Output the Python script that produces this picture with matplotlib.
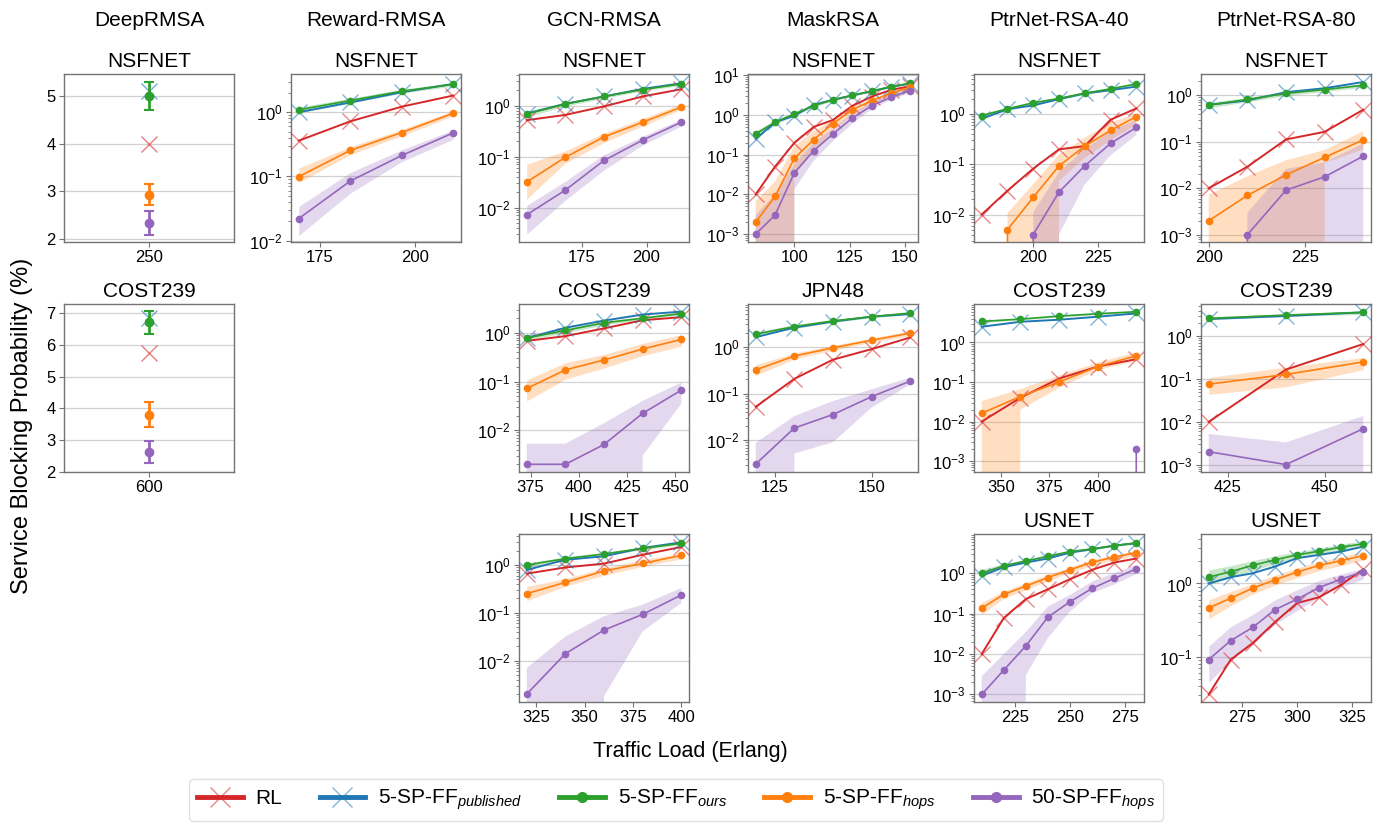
import matplotlib
matplotlib.use('Agg')
import matplotlib.pyplot as plt
from matplotlib.lines import Line2D
from matplotlib.colors import to_rgba
from matplotlib.ticker import MultipleLocator

plt.rcParams['font.family'] = ['Liberation Sans', 'DejaVu Sans']
plt.rcParams['mathtext.fontset'] = 'custom'
plt.rcParams['mathtext.rm'] = 'Liberation Sans'
plt.rcParams['mathtext.it'] = 'Liberation Sans:italic'
plt.rcParams['mathtext.bf'] = 'Liberation Sans:bold'

# ---------------- data (blocking probability, %) ----------------
columns = ['DeepRMSA', 'Reward-RMSA', 'GCN-RMSA', 'MaskRSA', 'PtrNet-RSA-40', 'PtrNet-RSA-80']
labels = ['RL', '5-SP-FF$_{published}$', '5-SP-FF$_{ours}$', '5-SP-FF$_{hops}$', '50-SP-FF$_{hops}$']

# DeepRMSA: single load point with error bars
drl_nsf_x = 250
drl_nsf_rl, drl_nsf_pub = 4.0, 5.1
drl_nsf_ours, drl_nsf_ours_err = 5.0, 0.29
drl_nsf_hops, drl_nsf_hops_err = 2.93, 0.22
drl_nsf_h50, drl_nsf_h50_err = 2.33, 0.25

drl_cost_x = 600
drl_cost_rl, drl_cost_pub = 5.75, 6.85
drl_cost_ours, drl_cost_ours_err = 6.7, 0.36
drl_cost_hops, drl_cost_hops_err = 3.8, 0.39
drl_cost_h50, drl_cost_h50_err = 2.62, 0.35

# Reward-RMSA NSFNET
rw_nsf_x = [169.5, 183, 196.5, 210]
rw_nsf_rl = [0.36, 0.72, 1.22, 1.82]
rw_nsf_pub = [1.0, 1.42, 2.05, 2.76]
rw_nsf_ours = [1.09, 1.52, 2.12, 2.72]
rw_nsf_ours_lo = [0.98, 1.38, 1.98, 2.55]
rw_nsf_ours_hi = [1.2, 1.66, 2.28, 2.9]
rw_nsf_hops = [0.099, 0.254, 0.483, 0.965]
rw_nsf_hops_lo = [0.08, 0.22, 0.43, 0.88]
rw_nsf_hops_hi = [0.135, 0.29, 0.54, 1.05]
rw_nsf_h50 = [0.022, 0.0846, 0.212, 0.477]
rw_nsf_h50_lo = [0.012, 0.055, 0.17, 0.38]
rw_nsf_h50_hi = [0.034, 0.115, 0.26, 0.53]

# GCN-RMSA NSFNET
gcn_nsf_x = [153.5, 168.5, 183.5, 198.5, 213.5]
gcn_nsf_rl = [0.52, 0.66, 0.97, 1.52, 2.11]
gcn_nsf_pub = [0.70, 1.09, 1.52, 2.14, 2.76]
gcn_nsf_ours = [0.69, 1.08, 1.52, 2.08, 2.68]
gcn_nsf_ours_lo = [0.6, 0.98, 1.4, 1.95, 2.5]
gcn_nsf_ours_hi = [0.78, 1.18, 1.64, 2.2, 2.85]
gcn_nsf_hops = [0.0316, 0.097, 0.245, 0.473, 0.94]
gcn_nsf_hops_lo = [0.0147, 0.075, 0.19, 0.40, 0.84]
gcn_nsf_hops_hi = [0.071, 0.13, 0.29, 0.56, 1.09]
gcn_nsf_h50 = [0.0072, 0.022, 0.084, 0.211, 0.473]
gcn_nsf_h50_lo = [0.003, 0.014, 0.055, 0.17, 0.40]
gcn_nsf_h50_hi = [0.011, 0.033, 0.11, 0.25, 0.55]

# GCN-RMSA COST239
gcn_cost_x = [373, 393, 413, 433, 453]
gcn_cost_rl = [0.68, 0.855, 1.23, 1.81, 2.09]
gcn_cost_pub = [0.78, 1.27, 1.78, 2.37, 2.72]
gcn_cost_ours = [0.78, 1.12, 1.6, 1.99, 2.48]
gcn_cost_ours_lo = [0.7, 1.0, 1.45, 1.85, 2.3]
gcn_cost_ours_hi = [0.86, 1.24, 1.75, 2.15, 2.68]
gcn_cost_hops = [0.072, 0.173, 0.277, 0.464, 0.73]
gcn_cost_hops_lo = [0.040, 0.112, 0.19, 0.34, 0.53]
gcn_cost_hops_hi = [0.108, 0.244, 0.36, 0.61, 0.91]
gcn_cost_h50 = [0.002, 0.002, 0.0051, 0.0222, 0.0665]
gcn_cost_h50_lo = [0, 0, 0, 0.003, 0.035]
gcn_cost_h50_hi = [0.0053, 0.0053, 0.014, 0.04, 0.095]

# GCN-RMSA USNET
gcn_us_x = [320, 340, 360, 380, 400]
gcn_us_rl = [0.66, 0.89, 1.07, 1.64, 2.38]
gcn_us_pub = [0.79, 1.29, 1.52, 2.27, 2.98]
gcn_us_ours = [1.0, 1.36, 1.70, 2.23, 2.84]
gcn_us_ours_lo = [0.9, 1.24, 1.56, 2.08, 2.65]
gcn_us_ours_hi = [1.1, 1.48, 1.84, 2.38, 3.03]
gcn_us_hops = [0.252, 0.434, 0.75, 1.08, 1.59]
gcn_us_hops_lo = [0.18, 0.36, 0.61, 0.94, 1.34]
gcn_us_hops_hi = [0.358, 0.52, 0.87, 1.29, 1.78]
gcn_us_h50 = [0.002, 0.014, 0.0437, 0.093, 0.236]
gcn_us_h50_lo = [0, 0, 0.0018, 0.041, 0.16]
gcn_us_h50_hi = [0.007, 0.032, 0.085, 0.148, 0.33]

# MaskRSA NSFNET
mask_nsf_x = [82.5, 91.25, 100, 108.75, 117.5, 126.25, 135, 143.75, 152.5]
mask_nsf_rl = [0.01, 0.05, 0.2, 0.5, 0.75, 1.7, 2.9, 4.3, 5.3]
mask_nsf_pub = [0.25, 0.66, 0.96, 1.81, 2.42, 3.1, 3.98, 5.1, 6.2]
mask_nsf_ours = [0.335, 0.66, 1.06, 1.71, 2.42, 3.16, 3.98, 5.2, 6.3]
mask_nsf_ours_lo = [0.28, 0.58, 0.95, 1.58, 2.28, 3.0, 3.8, 4.95, 6.0]
mask_nsf_ours_hi = [0.4, 0.74, 1.17, 1.84, 2.56, 3.32, 4.16, 5.45, 6.6]
mask_nsf_hops = [0.002, 0.0089, 0.081, 0.24, 0.61, 1.36, 2.28, 3.55, 5.0]
mask_nsf_hops_lo = [0, 0, 0.03, 0.12, 0.4, 1.0, 1.8, 2.9, 4.2]
mask_nsf_hops_hi = [0.0067, 0.021, 0.165, 0.39, 0.76, 1.65, 2.56, 3.9, 5.7]
mask_nsf_h50 = [0.001, 0.003, 0.035, 0.126, 0.335, 0.84, 1.71, 2.8, 4.14]
mask_nsf_h50_lo = [0, 0, 0.0135, 0.07, 0.22, 0.6, 1.4, 2.4, 3.6]
mask_nsf_h50_hi = [0.003, 0.01, 0.058, 0.2, 0.45, 1.1, 2.1, 3.3, 4.8]

# MaskRSA JPN48
mask_jpn_x = [120, 130, 140, 150, 160]
mask_jpn_rl = [0.052, 0.206, 0.53, 0.89, 1.58]
mask_jpn_pub = [1.6, 2.57, 3.45, 4.4, 5.0]
mask_jpn_ours = [1.86, 2.7, 3.56, 4.4, 5.26]
mask_jpn_ours_lo = [1.65, 2.45, 3.3, 4.15, 4.95]
mask_jpn_ours_hi = [2.08, 2.95, 3.82, 4.65, 5.55]
mask_jpn_hops = [0.32, 0.634, 0.95, 1.38, 1.95]
mask_jpn_hops_lo = [0.243, 0.55, 0.84, 1.24, 1.71]
mask_jpn_hops_hi = [0.415, 0.73, 1.07, 1.53, 2.2]
mask_jpn_h50 = [0.0031, 0.0183, 0.0356, 0.0857, 0.184]
mask_jpn_h50_lo = [0, 0.0052, 0.0091, 0.05, 0.156]
mask_jpn_h50_hi = [0.0088, 0.033, 0.069, 0.123, 0.217]

# PtrNet-RSA-40 NSFNET
p40_nsf_x = [180, 190, 200, 210, 220, 230, 240]
p40_nsf_rl = [0.01, 0.0298, 0.082, 0.198, 0.23, 0.77, 1.29]
p40_nsf_pub = [0.8, 1.25, 1.48, 1.98, 2.56, 2.98, 3.51]
p40_nsf_ours = [0.93, 1.27, 1.67, 2.04, 2.6, 3.16, 3.97]
p40_nsf_ours_lo = [0.85, 1.17, 1.56, 1.92, 2.45, 2.98, 3.75]
p40_nsf_ours_hi = [1.01, 1.37, 1.78, 2.16, 2.75, 3.34, 4.2]
p40_nsf_hops = [0, 0.005, 0.022, 0.093, 0.23, 0.47, 0.89]
p40_nsf_hops_lo = [0, 0, 0, 0.047, 0.133, 0.30, 0.62]
p40_nsf_hops_hi = [0, 0.0107, 0.040, 0.157, 0.336, 0.68, 1.0]
p40_nsf_h50 = [0, 0, 0.004, 0.028, 0.093, 0.26, 0.54]
p40_nsf_h50_lo = [0, 0, 0, 0.004, 0.04, 0.15, 0.38]
p40_nsf_h50_hi = [0, 0, 0.011, 0.07, 0.198, 0.455, 0.77]

# PtrNet-RSA-40 COST239
p40_cost_x = [340, 360, 380, 400, 420]
p40_cost_rl = [0.01, 0.040, 0.122, 0.246, 0.378]
p40_cost_pub = [2.5, 3.34, 3.76, 4.48, 5.44]
p40_cost_ours = [3.41, 3.9, 4.65, 5.33, 6.0]
p40_cost_ours_lo = [3.2, 3.7, 4.4, 5.05, 5.65]
p40_cost_ours_hi = [3.62, 4.1, 4.9, 5.6, 6.35]
p40_cost_hops = [0.0162, 0.043, 0.1, 0.246, 0.46]
p40_cost_hops_lo = [0, 0.02, 0.071, 0.2, 0.34]
p40_cost_hops_hi = [0.033, 0.066, 0.145, 0.31, 0.56]
p40_cost_h50 = [0, 0, 0, 0, 0.002]
p40_cost_h50_lo = [0, 0, 0, 0, 0]
p40_cost_h50_hi = [0, 0, 0, 0, 0.007]

# PtrNet-RSA-40 USNET
p40_us_x = [210, 220, 230, 240, 250, 260, 270, 280]
p40_us_rl = [0.01, 0.078, 0.229, 0.40, 0.71, 1.21, 1.83, 2.3]
p40_us_pub = [0.86, 1.41, 1.83, 2.3, 3.23, 3.9, 4.8, 5.5]
p40_us_ours = [1.0, 1.52, 2.0, 2.62, 3.42, 3.98, 4.8, 5.6]
p40_us_ours_lo = [0.85, 1.35, 1.82, 2.42, 3.2, 3.75, 4.5, 5.25]
p40_us_ours_hi = [1.25, 1.7, 2.2, 2.82, 3.65, 4.2, 5.1, 5.95]
p40_us_hops = [0.137, 0.298, 0.478, 0.78, 1.21, 1.87, 2.48, 3.23]
p40_us_hops_lo = [0.095, 0.24, 0.39, 0.65, 1.02, 1.55, 2.1, 2.75]
p40_us_hops_hi = [0.19, 0.36, 0.58, 0.93, 1.42, 2.2, 2.85, 3.7]
p40_us_h50 = [0.001, 0.004, 0.0159, 0.082, 0.196, 0.42, 0.74, 1.28]
p40_us_h50_lo = [0, 0, 0.003, 0.025, 0.113, 0.32, 0.52, 0.95]
p40_us_h50_hi = [0.0028, 0.01, 0.035, 0.15, 0.29, 0.62, 1.0, 1.6]

# PtrNet-RSA-80 NSFNET
p80_nsf_x = [200, 210, 220, 230, 240]
p80_nsf_rl = [0.01, 0.029, 0.112, 0.163, 0.487]
p80_nsf_pub = [0.62, 0.77, 1.16, 1.41, 1.92]
p80_nsf_ours = [0.61, 0.81, 1.09, 1.32, 1.63]
p80_nsf_ours_lo = [0.53, 0.72, 0.98, 1.2, 1.48]
p80_nsf_ours_hi = [0.7, 0.9, 1.2, 1.44, 1.78]
p80_nsf_hops = [0.002, 0.007, 0.0194, 0.046, 0.11]
p80_nsf_hops_lo = [0, 0, 0, 0.035, 0.068]
p80_nsf_hops_hi = [0.0073, 0.018, 0.04, 0.066, 0.168]
p80_nsf_h50 = [0, 0.001, 0.0091, 0.0176, 0.049]
p80_nsf_h50_lo = [0, 0, 0, 0, 0]
p80_nsf_h50_hi = [0, 0.003, 0.026, 0.036, 0.092]

# PtrNet-RSA-80 COST239
p80_cost_x = [420, 440, 460]
p80_cost_rl = [0.01, 0.167, 0.66]
p80_cost_pub = [2.54, 2.98, 3.63]
p80_cost_ours = [2.63, 3.14, 3.63]
p80_cost_ours_lo = [2.45, 2.95, 3.25]
p80_cost_ours_hi = [2.8, 3.35, 4.0]
p80_cost_hops = [0.076, 0.128, 0.252]
p80_cost_hops_lo = [0.044, 0.066, 0.167]
p80_cost_hops_hi = [0.109, 0.19, 0.32]
p80_cost_h50 = [0.002, 0.001, 0.0069]
p80_cost_h50_lo = [0, 0, 0]
p80_cost_h50_hi = [0.0052, 0.0033, 0.0137]

# PtrNet-RSA-80 USNET
p80_us_x = [260, 270, 280, 290, 300, 310, 320, 330]
p80_us_rl = [0.0308, 0.092, 0.155, 0.298, 0.54, 0.65, 0.96, 1.56]
p80_us_pub = [1.0, 1.22, 1.38, 1.7, 2.21, 2.45, 2.72, 3.18]
p80_us_ours = [1.22, 1.45, 1.77, 2.1, 2.45, 2.75, 3.14, 3.45]
p80_us_ours_lo = [0.96, 1.2, 1.5, 1.85, 2.2, 2.5, 2.85, 3.15]
p80_us_ours_hi = [1.53, 1.75, 2.05, 2.38, 2.72, 3.02, 3.45, 3.8]
p80_us_hops = [0.463, 0.632, 0.865, 1.12, 1.43, 1.76, 2.05, 2.4]
p80_us_hops_lo = [0.33, 0.5, 0.72, 0.95, 1.2, 1.5, 1.75, 2.1]
p80_us_hops_hi = [0.6, 0.78, 1.0, 1.3, 1.62, 2.0, 2.3, 2.75]
p80_us_h50 = [0.092, 0.167, 0.253, 0.44, 0.61, 0.88, 1.15, 1.45]
p80_us_h50_lo = [0.045, 0.09, 0.15, 0.28, 0.43, 0.65, 0.9, 1.15]
p80_us_h50_hi = [0.14, 0.26, 0.38, 0.6, 0.82, 1.1, 1.35, 1.6]

# ---------------- layout ----------------
C_RL, C_PUB, C_OURS, C_HOPS, C_H50 = 'tab:red', 'tab:blue', 'tab:green', 'tab:orange', 'tab:purple'
W, H = 1388, 823
col_left = [64, 291, 519, 748, 974, 1201]
row_top = [74, 304, 534]
AW, AH = 170, 168
TICK_FS = 12
TITLE_FS = 15

fig = plt.figure(figsize=(W / 100, H / 100), dpi=100)


def add_ax(col, row):
    return fig.add_axes([col_left[col] / W, 1 - (row_top[row] + AH) / H, AW / W, AH / H])


def style_ax(ax, title):
    ax.set_title(title, fontsize=TITLE_FS, pad=5)
    for s in ax.spines.values():
        s.set_color('0.45')
        s.set_linewidth(1.0)
    ax.grid(axis='y', which='major', color='0.82', lw=0.9)
    ax.set_axisbelow(True)
    ax.tick_params(which='both', labelsize=TICK_FS, color='0.45', pad=2.5)
    ax.tick_params(which='major', length=3.5)
    ax.tick_params(which='minor', length=2)


def xline(ax, x, y, color):
    ax.plot(x, y, color=color, lw=1.4, marker='x', ms=11, mew=1.0,
            mec=to_rgba(color, 0.55), zorder=3)


def dotline(ax, x, y, lo, hi, color):
    ax.fill_between(x, lo, hi, color=color, alpha=0.25, lw=0, zorder=1)
    ax.plot(x, y, color=color, lw=1.2, marker='o', ms=4.5, zorder=3)


# DeepRMSA column (single point, error bars)
single_panels = [
    (0, 'NSFNET', drl_nsf_x, drl_nsf_rl, drl_nsf_pub, drl_nsf_ours, drl_nsf_ours_err,
     drl_nsf_hops, drl_nsf_hops_err, drl_nsf_h50, drl_nsf_h50_err, (1.94, 5.46)),
    (1, 'COST239', drl_cost_x, drl_cost_rl, drl_cost_pub, drl_cost_ours, drl_cost_ours_err,
     drl_cost_hops, drl_cost_hops_err, drl_cost_h50, drl_cost_h50_err, (2.0, 7.28)),
]
for row, title, x, rl, pub, ours, ours_e, hops, hops_e, h50, h50_e, ylim in single_panels:
    ax = add_ax(0, row)
    ax.plot([x], [rl], ls='none', marker='x', ms=12, mew=1.0, mec=to_rgba(C_RL, 0.6), zorder=3)
    ax.plot([x], [pub], ls='none', marker='x', ms=12, mew=1.0, mec=to_rgba(C_PUB, 0.6), zorder=3)
    for v, e, c in [(ours, ours_e, C_OURS), (hops, hops_e, C_HOPS), (h50, h50_e, C_H50)]:
        ax.errorbar([x], [v], yerr=[e], fmt='o', color=c, ms=6, elinewidth=2,
                    capsize=3.5, capthick=1.5, zorder=3)
    ax.set_xlim(x - 1, x + 1)
    ax.set_xticks([x])
    ax.set_ylim(*ylim)
    ax.yaxis.set_major_locator(MultipleLocator(1))
    style_ax(ax, title)

# line panels
line_panels = [
    (1, 0, 'NSFNET', (0.0095, 3.94), rw_nsf_x, rw_nsf_rl, rw_nsf_pub,
     (rw_nsf_ours, rw_nsf_ours_lo, rw_nsf_ours_hi), (rw_nsf_hops, rw_nsf_hops_lo, rw_nsf_hops_hi),
     (rw_nsf_h50, rw_nsf_h50_lo, rw_nsf_h50_hi)),
    (2, 0, 'NSFNET', (0.0021, 4.2), gcn_nsf_x, gcn_nsf_rl, gcn_nsf_pub,
     (gcn_nsf_ours, gcn_nsf_ours_lo, gcn_nsf_ours_hi), (gcn_nsf_hops, gcn_nsf_hops_lo, gcn_nsf_hops_hi),
     (gcn_nsf_h50, gcn_nsf_h50_lo, gcn_nsf_h50_hi)),
    (2, 1, 'COST239', (0.00139, 3.9), gcn_cost_x, gcn_cost_rl, gcn_cost_pub,
     (gcn_cost_ours, gcn_cost_ours_lo, gcn_cost_ours_hi), (gcn_cost_hops, gcn_cost_hops_lo, gcn_cost_hops_hi),
     (gcn_cost_h50, gcn_cost_h50_lo, gcn_cost_h50_hi)),
    (2, 2, 'USNET', (0.00137, 4.45), gcn_us_x, gcn_us_rl, gcn_us_pub,
     (gcn_us_ours, gcn_us_ours_lo, gcn_us_ours_hi), (gcn_us_hops, gcn_us_hops_lo, gcn_us_hops_hi),
     (gcn_us_h50, gcn_us_h50_lo, gcn_us_h50_hi)),
    (3, 0, 'NSFNET', (0.00063, 10.8), mask_nsf_x, mask_nsf_rl, mask_nsf_pub,
     (mask_nsf_ours, mask_nsf_ours_lo, mask_nsf_ours_hi), (mask_nsf_hops, mask_nsf_hops_lo, mask_nsf_hops_hi),
     (mask_nsf_h50, mask_nsf_h50_lo, mask_nsf_h50_hi)),
    (3, 1, 'JPN48', (0.0021, 8.2), mask_jpn_x, mask_jpn_rl, mask_jpn_pub,
     (mask_jpn_ours, mask_jpn_ours_lo, mask_jpn_ours_hi), (mask_jpn_hops, mask_jpn_hops_lo, mask_jpn_hops_hi),
     (mask_jpn_h50, mask_jpn_h50_lo, mask_jpn_h50_hi)),
    (4, 0, 'NSFNET', (0.00284, 6.25), p40_nsf_x, p40_nsf_rl, p40_nsf_pub,
     (p40_nsf_ours, p40_nsf_ours_lo, p40_nsf_ours_hi), (p40_nsf_hops, p40_nsf_hops_lo, p40_nsf_hops_hi),
     (p40_nsf_h50, p40_nsf_h50_lo, p40_nsf_h50_hi)),
    (4, 1, 'COST239', (0.00053, 9.4), p40_cost_x, p40_cost_rl, p40_cost_pub,
     (p40_cost_ours, p40_cost_ours_lo, p40_cost_ours_hi), (p40_cost_hops, p40_cost_hops_lo, p40_cost_hops_hi),
     (p40_cost_h50, p40_cost_h50_lo, p40_cost_h50_hi)),
    (4, 2, 'USNET', (0.00065, 9.3), p40_us_x, p40_us_rl, p40_us_pub,
     (p40_us_ours, p40_us_ours_lo, p40_us_ours_hi), (p40_us_hops, p40_us_hops_lo, p40_us_hops_hi),
     (p40_us_h50, p40_us_h50_lo, p40_us_h50_hi)),
    (5, 0, 'NSFNET', (0.0007, 2.85), p80_nsf_x, p80_nsf_rl, p80_nsf_pub,
     (p80_nsf_ours, p80_nsf_ours_lo, p80_nsf_ours_hi), (p80_nsf_hops, p80_nsf_hops_lo, p80_nsf_hops_hi),
     (p80_nsf_h50, p80_nsf_h50_lo, p80_nsf_h50_hi)),
    (5, 1, 'COST239', (0.00067, 5.7), p80_cost_x, p80_cost_rl, p80_cost_pub,
     (p80_cost_ours, p80_cost_ours_lo, p80_cost_ours_hi), (p80_cost_hops, p80_cost_hops_lo, p80_cost_hops_hi),
     (p80_cost_h50, p80_cost_h50_lo, p80_cost_h50_hi)),
    (5, 2, 'USNET', (0.0243, 4.72), p80_us_x, p80_us_rl, p80_us_pub,
     (p80_us_ours, p80_us_ours_lo, p80_us_ours_hi), (p80_us_hops, p80_us_hops_lo, p80_us_hops_hi),
     (p80_us_h50, p80_us_h50_lo, p80_us_h50_hi)),
]

for col, row, title, ylim, x, rl, pub, ours, hops, h50 in line_panels:
    ax = add_ax(col, row)
    ax.set_yscale('log')
    xline(ax, x, rl, C_RL)
    xline(ax, x, pub, C_PUB)
    dotline(ax, x, *ours, C_OURS)
    dotline(ax, x, *hops, C_HOPS)
    dotline(ax, x, *h50, C_H50)
    span = x[-1] - x[0]
    ax.set_xlim(x[0] - 0.05 * span, x[-1] + 0.05 * span)
    ax.xaxis.set_major_locator(MultipleLocator(25))
    ax.set_ylim(*ylim)
    style_ax(ax, title)

# column headers and shared axis labels
for name, left in zip(columns, col_left):
    fig.text((left + AW / 2) / W, 1 - 21 / H, name, ha='center', va='center', fontsize=15)
fig.text(22 / W, 1 - 426 / H, 'Service Blocking Probability (%)', rotation=90,
         ha='center', va='center', fontsize=17)
fig.text(690 / W, 1 - 752 / H, 'Traffic Load (Erlang)', ha='center', va='center', fontsize=15.5)

handles = [
    Line2D([], [], color=C_RL, lw=3.5, marker='x', ms=14, mew=1.0, mec=to_rgba(C_RL, 0.55)),
    Line2D([], [], color=C_PUB, lw=3.5, marker='x', ms=14, mew=1.0, mec=to_rgba(C_PUB, 0.55)),
    Line2D([], [], color=C_OURS, lw=3.5, marker='o', ms=7),
    Line2D([], [], color=C_HOPS, lw=3.5, marker='o', ms=7),
    Line2D([], [], color=C_H50, lw=3.5, marker='o', ms=7),
]
fig.legend(handles, labels, loc='center', bbox_to_anchor=(676 / W, 1 - 800 / H), ncol=5,
           fontsize=15, handlelength=2.2, handletextpad=0.6, columnspacing=1.8,
           borderpad=0.4, edgecolor='0.85')

fig.savefig('out.png', dpi=100)
